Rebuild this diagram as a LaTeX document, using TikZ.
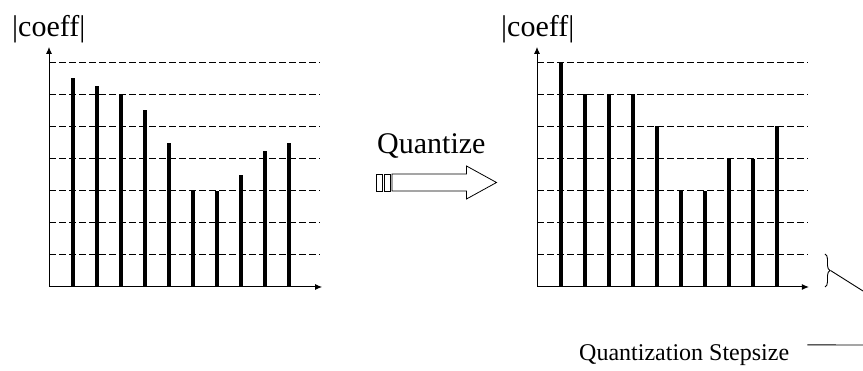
\documentclass[tikz,border=0pt]{standalone}
\usepackage{fontspec}
\setmainfont{Liberation Serif}
\usetikzlibrary{arrows.meta,decorations.pathreplacing}

\begin{document}
\begin{tikzpicture}[x=1pt, y=1pt,
    axis/.style = {line width=1pt, -{Latex[length=7pt, width=6pt]}},
    level/.style = {dash pattern=on 6.5pt off 3.5pt, line width=0.8pt},
    bar/.style = {line width=4pt},
    lbl/.style = {anchor=base west, inner sep=0pt, font=\fontsize{30}{36}\selectfont}]

    \useasboundingbox (0, 0) rectangle (863, 371);

    \node[lbl] (c1) at (12, 334) {|coeff|};
    \node[lbl] (c2) at (501, 334) {|coeff|};
    \node[lbl] (q) at (377, 217) {Quantize};
    \node[anchor=base west, inner sep=0pt, font=\fontsize{24}{29}\selectfont] (qs) at (579, 10) {Quantization Stepsize};

    \begin{scope}[shift={(49pt, 84pt)}, x=24pt, y=32.1pt]
        \coordinate (o1) at (0, 0);
        \coordinate (y1) at (0, 7.48);
        \coordinate (x1) at (11.38, 0);
        \foreach \k in {1,...,7}
            \draw[level] (0, \k) -- (11.3, \k);
        \foreach \h [count=\i] in {6.5, 6.25, 6, 5.5, 4.5, 3, 3, 3.5, 4.25, 4.5}
            \draw[bar] (\i, 0) -- (\i, \h);
        \draw[axis] (o1) -- (y1);
        \draw[axis] (o1) -- (x1);
    \end{scope}

    \begin{scope}[shift={(537pt, 84pt)}, x=24pt, y=32.1pt]
        \coordinate (o2) at (0, 0);
        \coordinate (y2) at (0, 7.48);
        \coordinate (x2) at (11.33, 0);
        \foreach \k in {1,...,7}
            \draw[level] (0, \k) -- (11.3, \k);
        \foreach \h [count=\i] in {7, 6, 6, 6, 5, 3, 3, 4, 4, 5}
            \draw[bar] (\i, 0) -- (\i, \h);
        \draw[axis] (o2) -- (y2);
        \draw[axis] (o2) -- (x2);
    \end{scope}

    \draw[line width=0.8pt] (376, 180) rectangle (382, 197);
    \draw[line width=0.8pt] (384, 180) rectangle (390, 197);
    \draw[line width=0.8pt] (392, 197) -- (466.5, 197) -- (466.5, 205) -- (496.5, 188.5)
        -- (466.5, 172) -- (466.5, 180) -- (392, 180) -- cycle;

    \draw[line width=0.9pt, decorate, decoration={brace, amplitude=5pt}] (825, 117) -- (825, 84);
    \coordinate (bt) at (830.5, 100.5);
    \coordinate (be) at (863, 80);
    \draw[line width=0.9pt] (bt) -- (be);

    \coordinate (se) at (863, 26);
    \draw[line width=0.9pt] ([xshift=18pt]qs.north east) -- (se);
\end{tikzpicture}
\end{document}
